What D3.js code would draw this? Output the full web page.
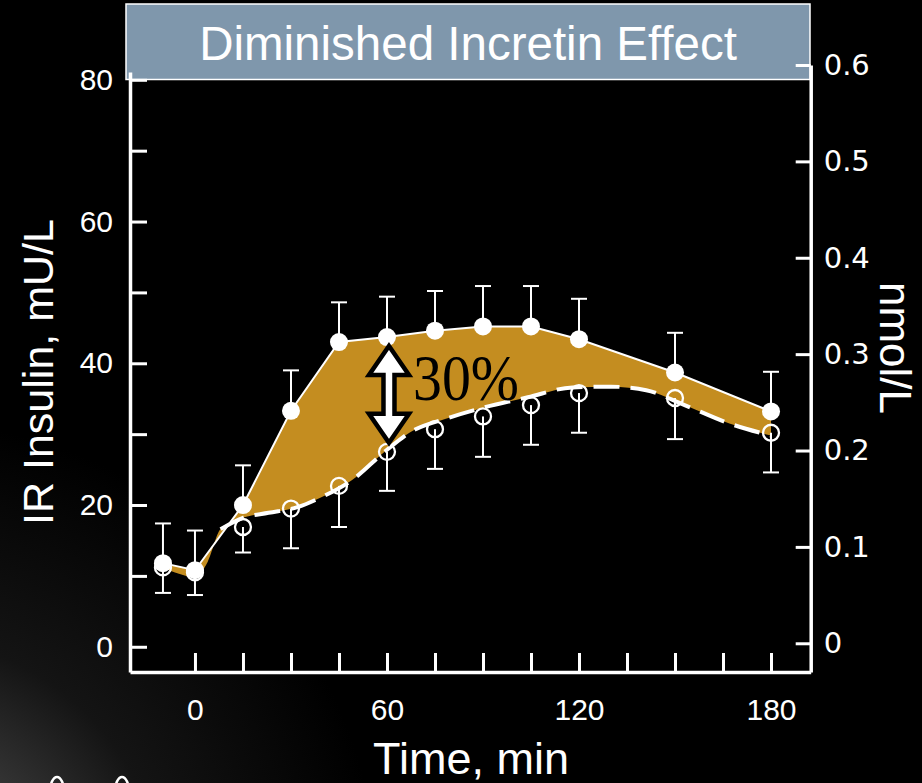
<!DOCTYPE html>
<html>
<head>
<meta charset="utf-8">
<script src="https://cdn.jsdelivr.net/npm/d3@7/dist/d3.min.js"></script>
<style>
  html, body { margin: 0; padding: 0; background: #000; }
  svg { display: block; }
</style>
</head>
<body>
<svg id="chart" width="922" height="783"></svg>
<script>
// Sampling times (min)
const times = [-10, 0, 15, 30, 45, 60, 75, 90, 105, 120, 150, 180];
// Oral glucose load: insulin (mU/L) and SEM
const oralInsulin = [11.8, 10.8, 20.0, 33.3, 43.0, 43.7, 44.6, 45.2, 45.2, 43.4, 38.7, 33.2];
const oralSem     = [5.6, 5.6, 5.6, 5.7, 5.6, 5.7, 5.6, 5.7, 5.7, 5.7, 5.6, 5.6];
// Isoglycaemic IV glucose: insulin (mU/L) and SEM
const ivInsulin = [11.2, 10.5, 16.9, 19.5, 22.7, 27.5, 30.7, 32.5, 34.1, 35.8, 35.1, 30.2];
const ivSem     = [3.6, 3.2, 3.6, 5.6, 5.8, 5.5, 5.6, 5.7, 5.6, 5.6, 5.8, 5.6];
// Smoothed IV response curve
const ivFitTimes = [-10, -5, 0, 4, 8, 15, 23, 32, 39, 49, 60, 67, 80, 89, 104, 118, 130, 141, 153, 167, 180];
const ivFit      = [11.2, 10.3, 9.8, 12.0, 16.6, 18.2, 18.9, 19.7, 21.0, 23.5, 27.8, 30.2, 32.4, 33.6, 35.2, 36.6, 36.7, 36.2, 34.1, 31.5, 29.8];
// Axis ticks
const xTicks = [0, 15, 30, 45, 60, 75, 90, 105, 120, 135, 150, 165, 180];
const xLabels = [0, 60, 120, 180];
const yLeftTicks = [0, 10, 20, 30, 40, 50, 60, 70, 80];
const yLeftLabels = [0, 20, 40, 60, 80];
const yRightTicks = [0, 0.1, 0.2, 0.3, 0.4, 0.5, 0.6];
const effectLabel = "30%";
const effectAt = 60;

const svg = d3.select("#chart");
const W = 922, H = 783;
const sans = "'Liberation Sans', Arial, Helvetica, sans-serif";

// Background with a soft glow in the lower-left corner
const defs = svg.append("defs");
const grad = defs.append("radialGradient")
  .attr("id", "glow").attr("gradientUnits", "userSpaceOnUse")
  .attr("cx", -100).attr("cy", 900).attr("r", 480);
[[0, "#5a5a5a"], [0.3, "#363636"], [0.55, "#141414"], [1, "#000"]]
  .forEach(([o, c]) => grad.append("stop").attr("offset", o).attr("stop-color", c));
svg.append("rect").attr("width", W).attr("height", H).attr("fill", "#000");
svg.append("rect").attr("width", W).attr("height", H).attr("fill", "url(#glow)");

// Scales
const x = d3.scaleLinear().domain([-20.3, 192.4]).range([130, 810.7]);
const y = d3.scaleLinear().domain([-3.56, 81.1]).range([672, 72]);
const yR = d3.scaleLinear().domain([-0.0298, 0.6]).range([672, 65]);

// Plot panel
svg.append("rect")
  .attr("x", x.range()[0]).attr("y", y.range()[1])
  .attr("width", x.range()[1] - x.range()[0])
  .attr("height", y.range()[0] - y.range()[1])
  .attr("fill", "#000");

// Title banner
svg.append("rect")
  .attr("x", 126).attr("y", 4).attr("width", 684).attr("height", 75.5)
  .attr("fill", "#7f97ac").attr("stroke", "#fff").attr("stroke-width", 1.5);
svg.append("text")
  .attr("x", 468).attr("y", 60).attr("text-anchor", "middle")
  .attr("fill", "#fff").attr("font-family", sans).attr("font-size", 47.5)
  .text("Diminished Incretin Effect");

// Shaded gap between oral and IV responses
const oralPts = times.map((t, i) => [x(t), y(oralInsulin[i])]);
const fitPts = ivFitTimes.map((t, i) => [x(t), y(ivFit[i])]);
const upperPath = d3.line()(oralPts);
const lowerPath = d3.line().curve(d3.curveMonotoneX)(fitPts.slice().reverse());
svg.append("path")
  .attr("d", upperPath + "L" + lowerPath.slice(1) + "Z")
  .attr("fill", "#c48d20");

// Error bars
const cap = 8;
const bars = svg.append("g").attr("stroke", "#fff").attr("stroke-width", 2).attr("fill", "none");
times.forEach((t, i) => {
  const cx = x(t);
  const y0 = y(oralInsulin[i]), y1 = y(oralInsulin[i] + oralSem[i]);
  bars.append("line").attr("x1", cx).attr("x2", cx).attr("y1", y0).attr("y2", y1);
  bars.append("line").attr("x1", cx - cap).attr("x2", cx + cap).attr("y1", y1).attr("y2", y1);
  const z0 = y(ivInsulin[i]), z1 = y(ivInsulin[i] - ivSem[i]);
  bars.append("line").attr("x1", cx).attr("x2", cx).attr("y1", z0).attr("y2", z1);
  bars.append("line").attr("x1", cx - cap).attr("x2", cx + cap).attr("y1", z1).attr("y2", z1);
});

// IV markers (open)
svg.append("g").selectAll("circle").data(times).join("circle")
  .attr("cx", d => x(d)).attr("cy", (d, i) => y(ivInsulin[i])).attr("r", 8)
  .attr("fill", "none").attr("stroke", "#fff").attr("stroke-width", 2.3);

// IV dashed curve
svg.append("path")
  .attr("d", d3.line().curve(d3.curveMonotoneX)(fitPts.filter((p, i) => ivFitTimes[i] >= 8)))
  .attr("fill", "none").attr("stroke", "#fff").attr("stroke-width", 4)
  .attr("stroke-dasharray", "26 11");

// Oral line and filled markers
svg.append("path").attr("d", upperPath)
  .attr("fill", "none").attr("stroke", "#fff").attr("stroke-width", 2);
svg.append("g").selectAll("circle").data(times).join("circle")
  .attr("cx", d => x(d)).attr("cy", (d, i) => y(oralInsulin[i])).attr("r", 9)
  .attr("fill", "#fff");

// Double-headed arrow marking the difference at 60 min
const k = times.indexOf(effectAt);
const ax = x(effectAt) + 2;
const aTop = y(oralInsulin[k]) + 9, aBot = y(ivInsulin[k]) - 9;
const hw = 20, hl = 29, sw = 5.5;
const arrow = [
  [ax, aTop], [ax + hw, aTop + hl], [ax + sw, aTop + hl], [ax + sw, aBot - hl],
  [ax + hw, aBot - hl], [ax, aBot], [ax - hw, aBot - hl], [ax - sw, aBot - hl],
  [ax - sw, aTop + hl], [ax - hw, aTop + hl]
];
svg.append("path").attr("d", d3.line()(arrow) + "Z")
  .attr("fill", "#fff").attr("stroke", "#000").attr("stroke-width", 4.5)
  .attr("stroke-linejoin", "miter");
svg.append("text")
  .attr("x", ax + 24).attr("y", 400)
  .attr("font-family", "'Liberation Serif', 'Times New Roman', serif")
  .attr("font-size", 66).attr("fill", "#000")
  .attr("textLength", 106).attr("lengthAdjust", "spacingAndGlyphs")
  .text(effectLabel);

// Axes
function styleAxis(g, size, family) {
  g.select(".domain").attr("stroke", "#fff").attr("stroke-width", 3.5);
  g.selectAll(".tick line").attr("stroke", "#fff").attr("stroke-width", 3);
  g.selectAll(".tick text").attr("fill", "#fff")
    .attr("font-size", size).attr("font-family", family);
}
svg.append("g").attr("transform", `translate(${x.range()[0]},0)`)
  .call(d3.axisLeft(y).tickValues(yLeftTicks).tickSizeInner(-17).tickSizeOuter(0)
    .tickPadding(17).tickFormat(d => yLeftLabels.includes(d) ? d : ""))
  .call(g => styleAxis(g, 30, sans));
svg.append("g").attr("transform", `translate(0,${y.range()[0]})`)
  .call(d3.axisBottom(x).tickValues(xTicks).tickSizeInner(-19).tickSizeOuter(0)
    .tickPadding(27).tickFormat(d => xLabels.includes(d) ? d : ""))
  .call(g => styleAxis(g, 30, sans));
svg.append("g").attr("transform", `translate(${x.range()[1]},0)`)
  .call(d3.axisRight(yR).tickValues(yRightTicks).tickSizeInner(-15).tickSizeOuter(0)
    .tickPadding(13).tickFormat(d => d === 0 ? "0" : d3.format(".1f")(d)))
  .call(g => styleAxis(g, 29, "'DejaVu Sans', sans-serif"));

// Axis titles
svg.append("text")
  .attr("transform", "translate(53,372) rotate(-90)")
  .attr("text-anchor", "middle").attr("fill", "#fff")
  .attr("font-family", sans).attr("font-size", 43)
  .text("IR Insulin, mU/L");
svg.append("text")
  .attr("transform", "translate(880,348) rotate(90)")
  .attr("text-anchor", "middle").attr("fill", "#fff")
  .attr("font-family", sans).attr("font-size", 44)
  .text("nmol/L");
svg.append("text")
  .attr("x", 471).attr("y", 774).attr("text-anchor", "middle").attr("fill", "#fff")
  .attr("font-family", sans).attr("font-size", 45)
  .text("Time, min");

// Decorative loops at the lower-left edge
svg.append("g").attr("fill", "none").attr("stroke", "#fff").attr("stroke-width", 2.5)
  .selectAll("ellipse").data([57, 122]).join("ellipse")
  .attr("cx", d => d).attr("cy", 792).attr("rx", 7).attr("ry", 15);
</script>
</body>
</html>
